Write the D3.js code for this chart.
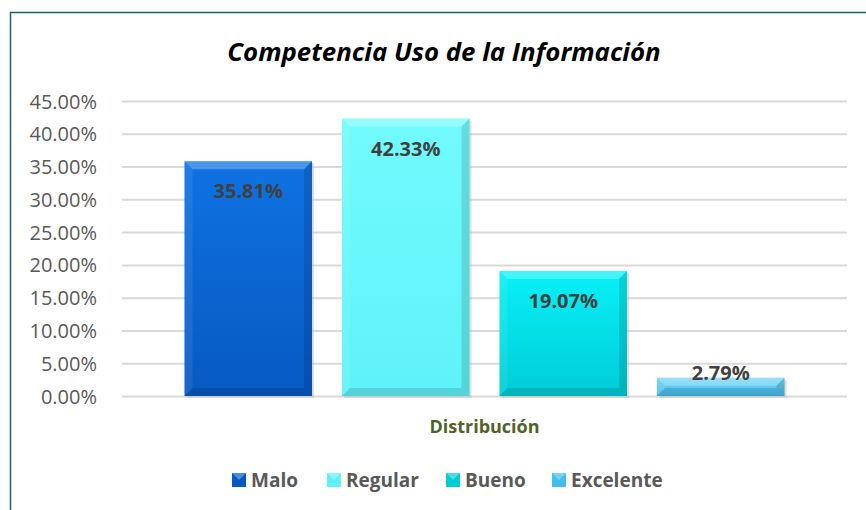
<!DOCTYPE html>
<html>
<head>
<meta charset="utf-8">
<script src="https://cdn.jsdelivr.net/npm/d3@7"></script>
<style>
  body { margin: 0; background: #fff; }
  svg { display: block; font-family: "Open Sans", sans-serif; }
</style>
</head>
<body>
<svg class="chart" width="866" height="510"></svg>
<script>
const categories = ['Distribución']
const series = ['Malo', 'Regular', 'Bueno', 'Excelente']
const values = [35.81, 42.33, 19.07, 2.79]
const yTicks = [0, 5, 10, 15, 20, 25, 30, 35, 40, 45]
const colors = {
  Malo: ['#0f72e2', '#0759c2'],
  Regular: ['#72fbff', '#5ef2f8'],
  Bueno: ['#08f0f8', '#00ccd6'],
  Excelente: ['#74d6f6', '#44bdec']
}

const svg = d3.select('.chart')
const width = +svg.attr('width')
const height = +svg.attr('height')

// frame
svg.append('path')
  .attr('d', `M10.5,${height} V12.5 H${width}`)
  .attr('fill', 'none')
  .attr('stroke', '#1d5d78')
  .attr('stroke-width', 1.5)

svg.append('text')
  .attr('x', 444).attr('y', 61)
  .attr('text-anchor', 'middle')
  .attr('font-size', 25.8)
  .attr('font-weight', 'bold')
  .attr('font-style', 'italic')
  .attr('fill', '#000')
  .text('Competencia Uso de la Información')

const plotLeft = 122, plotRight = 847
const y = d3.scaleLinear().domain([0, 45]).range([396, 101])
const x0 = d3.scaleBand().domain(categories).range([plotLeft, plotRight]).padding(0.0943)
const x1 = d3.scaleBand().domain(series).range([0, x0.bandwidth()]).paddingInner(0.19)

// gridlines
svg.append('g')
  .selectAll('line')
  .data(yTicks)
  .join('line')
  .attr('x1', plotLeft).attr('x2', plotRight)
  .attr('y1', d => y(d) + 0.5).attr('y2', d => y(d) + 0.5)
  .attr('stroke', '#d9d9d9')
  .attr('stroke-width', 2)

const yAxis = svg.append('g')
  .attr('transform', `translate(${plotLeft - 22},0)`)
  .call(d3.axisLeft(y).tickValues(yTicks).tickSize(0).tickFormat(d => d.toFixed(2) + '%'))
yAxis.select('.domain').remove()
yAxis.selectAll('text')
  .attr('font-family', '"Open Sans", sans-serif')
  .attr('font-size', 20)
  .attr('fill', '#595959')
  .attr('dy', '0.35em')

const defs = svg.append('defs')
series.forEach((s, i) => {
  const grad = defs.append('linearGradient')
    .attr('id', 'g' + i)
    .attr('x1', 0).attr('y1', 0).attr('x2', 0).attr('y2', 1)
  grad.append('stop').attr('offset', 0).attr('stop-color', colors[s][0])
  grad.append('stop').attr('offset', 1).attr('stop-color', colors[s][1])
})

const data = series.map((s, i) => ({ s, i, v: values[i] }))

const bars = svg.append('g')
  .attr('transform', `translate(${x0(categories[0])},0)`)
  .selectAll('g')
  .data(data)
  .join('g')

// soft shadow
bars.append('rect')
  .attr('x', d => x1(d.s) + 2)
  .attr('y', d => y(d.v) + 2)
  .attr('width', x1.bandwidth())
  .attr('height', d => y(0) - y(d.v))
  .attr('fill', '#bfbfbf')
  .attr('opacity', 0.5)

bars.append('rect')
  .attr('x', d => x1(d.s))
  .attr('y', d => y(d.v))
  .attr('width', x1.bandwidth())
  .attr('height', d => y(0) - y(d.v))
  .attr('fill', d => `url(#g${d.i})`)

// bevel edges
const bev = 8
bars.each(function (d) {
  const g = d3.select(this)
  const x = x1(d.s), w = x1.bandwidth(), t = y(d.v), b = y(0)
  const e = Math.min(bev, (b - t) / 2)
  g.append('path')
    .attr('d', `M${x},${t} H${x + w} L${x + w - e},${t + e} H${x + e} Z`)
    .attr('fill', '#fff').attr('opacity', 0.25)
  g.append('path')
    .attr('d', `M${x},${t} L${x + e},${t + e} V${b - e} L${x},${b} Z`)
    .attr('fill', '#fff').attr('opacity', 0.08)
  g.append('path')
    .attr('d', `M${x + w},${t} L${x + w - e},${t + e} V${b - e} L${x + w},${b} Z`)
    .attr('fill', '#000').attr('opacity', 0.12)
  g.append('path')
    .attr('d', `M${x},${b} L${x + e},${b - e} H${x + w - e} L${x + w},${b} Z`)
    .attr('fill', '#000').attr('opacity', 0.12)
})

bars.append('text')
  .attr('x', d => x1(d.s) + x1.bandwidth() / 2)
  .attr('y', d => (y(0) - y(d.v) < 40) ? y(d.v) + 2 : y(d.v) + 37)
  .attr('text-anchor', 'middle')
  .attr('font-size', 20)
  .attr('font-weight', 'bold')
  .attr('fill', '#404040')
  .text(d => d.v.toFixed(2) + '%')

svg.append('text')
  .attr('x', x0(categories[0]) + x0.bandwidth() / 2)
  .attr('y', 433)
  .attr('text-anchor', 'middle')
  .attr('font-size', 18)
  .attr('font-weight', 'bold')
  .attr('fill', '#4f6228')
  .text(categories[0])

// legend
const legendX = [232, 327, 446, 552]
const legend = svg.append('g')
  .selectAll('g')
  .data(data)
  .join('g')
  .attr('transform', d => `translate(${legendX[d.i]},473)`)
legend.append('rect')
  .attr('width', 14).attr('height', 14)
  .attr('fill', d => colors[d.s][1])
legend.append('path')
  .attr('d', 'M0,0 H14 L7,7 Z')
  .attr('fill', '#fff').attr('opacity', 0.3)
legend.append('text')
  .attr('x', 19).attr('y', 14)
  .attr('font-size', 19)
  .attr('font-weight', 'bold')
  .attr('fill', '#595959')
  .text(d => d.s)
</script>
</body>
</html>
